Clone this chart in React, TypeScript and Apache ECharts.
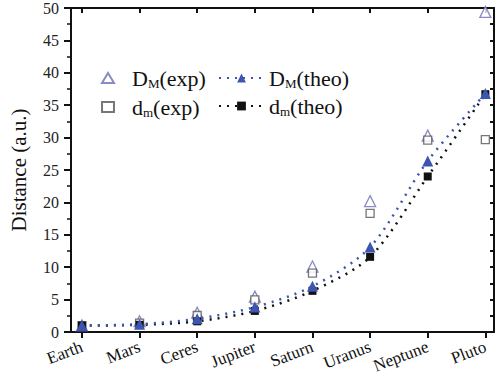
import React, { useEffect, useRef } from "react";
import * as echarts from "echarts";

const planets = ["Earth", "Mars", "Ceres", "Jupiter", "Saturn", "Uranus", "Neptune", "Pluto"];
const DM_exp = [1.02, 1.67, 2.98, 5.46, 10.1, 20.2, 30.3, 49.4];
const dm_exp = [0.98, 1.38, 2.55, 4.95, 9.1, 18.3, 29.6, 29.7];
const DM_theo = [1.0, 1.2, 2.05, 3.85, 7.05, 13.1, 26.4, 36.8];
const dm_theo = [1.0, 1.1, 1.65, 3.25, 6.35, 11.6, 24.0, 36.7];
const yTicks = [0, 5, 10, 15, 20, 25, 30, 35, 40, 45, 50];

const legendLabels: Record<string, string> = {
  DM_exp: "{g|}{a|D}{s|M}{a|(exp)}",
  dm_exp: "{g|}{a|d}{s|m}{a|(exp)}",
  DM_theo: "{a|D}{s|M}{a|(theo)}",
  dm_theo: "{a|d}{s|m}{a|(theo)}",
};

const SERIF = "Liberation Serif";

export default function App() {
  const ref = useRef<HTMLDivElement>(null);
  useEffect(() => {
    if (!ref.current) return;
    const chart = echarts.init(ref.current, undefined, { renderer: "svg" });
    const idx = planets.map((_, i) => i);
    const pts = (arr: number[]) => arr.map((v, i) => [i, v]);
    const legendRich = {
      g: { width: 13, fontSize: 20, fontFamily: SERIF, lineHeight: 24 },
      a: { fontSize: 22, fontFamily: SERIF, color: "#111", lineHeight: 24, verticalAlign: "middle" },
      s: { fontSize: 13, fontFamily: SERIF, color: "#111", lineHeight: 24, verticalAlign: "bottom", padding: [10, 0, 0, 0] },
    };
    chart.setOption({
      animation: false,
      backgroundColor: "#fff",
      textStyle: { fontFamily: SERIF },
      grid: { left: 62, right: 6, top: 8, bottom: 49, show: false },
      legend: [
        {
          data: ["DM_exp", "dm_exp"],
          orient: "vertical",
          left: 96,
          top: 62,
          itemWidth: 12,
          itemHeight: 10,
          itemGap: 6,
          formatter: (n: string) => legendLabels[n],
          textStyle: { fontFamily: SERIF, rich: legendRich },
          selectedMode: false,
        },
        {
          data: ["DM_theo", "dm_theo"],
          orient: "vertical",
          left: 213,
          top: 62,
          itemWidth: 45,
          itemHeight: 11,
          itemGap: 5,
          formatter: (n: string) => legendLabels[n],
          textStyle: { fontFamily: SERIF, rich: legendRich },
          selectedMode: false,
        },
      ],
      xAxis: [
        {
          type: "value",
          position: "bottom",
          min: -0.19,
          max: 7.15,
          axisLine: { show: true, onZero: false, lineStyle: { color: "#111", width: 2 } },
          axisTick: { show: true, inside: false, length: 6, customValues: idx, lineStyle: { color: "#111", width: 2 } },
          axisLabel: {
            customValues: idx,
            formatter: (v: number) => planets[Math.round(v)] ?? "",
            rotate: 21,
            margin: 14,
            fontSize: 17,
            fontFamily: SERIF,
            color: "#111",
          },
          splitLine: { show: false },
        },
        {
          type: "value",
          position: "top",
          min: -0.19,
          max: 7.15,
          axisLine: { show: true, onZero: false, lineStyle: { color: "#111", width: 2 } },
          axisTick: { show: true, inside: true, length: 5, customValues: idx, lineStyle: { color: "#111", width: 2 } },
          axisLabel: { show: false },
          splitLine: { show: false },
        },
      ],
      yAxis: [
        {
          type: "value",
          position: "left",
          min: 0,
          max: 50,
          interval: 5,
          name: "Distance (a.u.)",
          nameLocation: "middle",
          nameGap: 42,
          nameTextStyle: { fontSize: 21, fontFamily: SERIF, color: "#111" },
          axisLine: { show: true, onZero: false, lineStyle: { color: "#111", width: 2 } },
          axisTick: { show: true, inside: false, length: 7, customValues: yTicks, lineStyle: { color: "#111", width: 2 } },
          minorTick: { show: true, splitNumber: 2, length: 4, lineStyle: { color: "#111", width: 1.5 } },
          axisLabel: { customValues: yTicks, margin: 12, fontSize: 16, fontFamily: SERIF, color: "#222" },
          splitLine: { show: false },
        },
        {
          type: "value",
          position: "right",
          min: 0,
          max: 50,
          interval: 2.5,
          axisLine: { show: true, onZero: false, lineStyle: { color: "#111", width: 2 } },
          axisTick: { show: true, inside: true, length: 4, lineStyle: { color: "#111", width: 2 } },
          axisLabel: { show: false },
          splitLine: { show: false },
        },
      ],
      series: [
        {
          name: "DM_exp",
          type: "scatter",
          data: pts(DM_exp),
          symbol: "triangle",
          symbolSize: 11,
          itemStyle: { color: "#fff", borderColor: "#6d6db8", borderWidth: 1.3 },
          z: 3,
        },
        {
          name: "dm_exp",
          type: "scatter",
          data: pts(dm_exp),
          symbol: "rect",
          symbolSize: 8,
          itemStyle: { color: "#fff", borderColor: "#555", borderWidth: 1.3 },
          z: 3,
        },
        {
          name: "dm_theo",
          type: "line",
          data: pts(dm_theo),
          smooth: 0.3,
          symbol: "rect",
          symbolSize: 8,
          showSymbol: true,
          itemStyle: { color: "#111", borderWidth: 0 },
          lineStyle: { color: "#111", width: 2.5, type: [2, 6] },
          z: 4,
        },
        {
          name: "DM_theo",
          type: "line",
          data: pts(DM_theo),
          smooth: 0.3,
          symbol: "triangle",
          symbolSize: 11,
          showSymbol: true,
          itemStyle: { color: "#3b55b0", borderWidth: 0 },
          lineStyle: { color: "#3b55b0", width: 2.5, type: [2, 6] },
          z: 5,
        },
      ],
    });
    return () => chart.dispose();
  }, []);
  return <div ref={ref} style={{ width: 500, height: 381, position: "absolute", left: 0, top: 0 }} />;
}
